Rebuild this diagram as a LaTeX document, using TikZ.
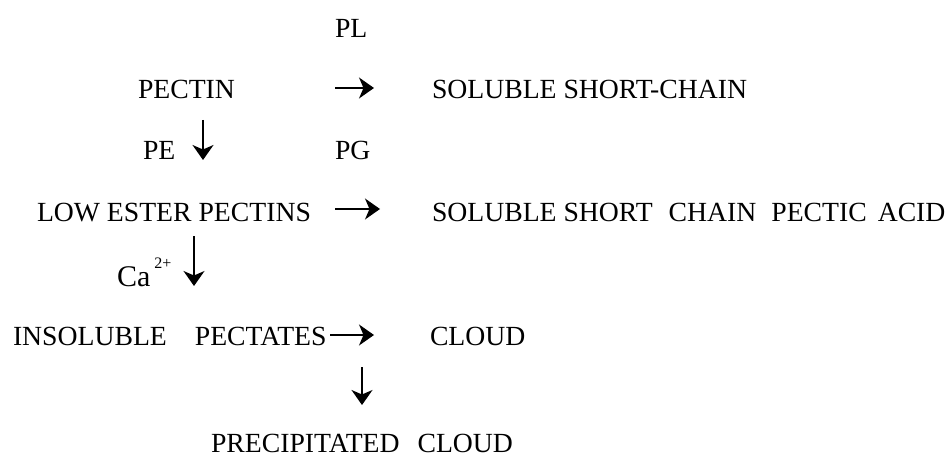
\documentclass[tikz,border=0pt]{standalone}
\usepackage{fontspec}
\setmainfont{Liberation Serif}
\usetikzlibrary{arrows.meta}
\tikzset{
  lbl/.style={anchor=base west, inner sep=0pt, outer sep=0pt, font=\fontsize{27.7}{30}\selectfont},
  arr/.style={line width=1.6pt, -{Stealth[length=15pt,width=21pt,inset=4.5pt]}}
}
\begin{document}
\begin{tikzpicture}[x=1pt,y=-1pt]
\useasboundingbox (0,0) rectangle (952,457);
% labels
\node[lbl] (pl) at (335,38) {PL};
\node[lbl] (pectin) at (138,99) {PECTIN};
\node[lbl] (ssc) at (432,99) {SOLUBLE SHORT-CHAIN};
\node[lbl] (pe) at (143,160) {PE};
\node[lbl] (pg) at (335,160) {PG};
\node[lbl] (lep) at (37,221) {LOW ESTER PECTINS};
\node[lbl] (sscpa) at (432,221) {SOLUBLE SHORT\hspace{16pt}CHAIN\hspace{15pt}PECTIC\hspace{4pt} ACID};
\node[lbl, font=\fontsize{30}{33}\selectfont] (ca) at (117,286) {Ca\hspace{4pt}\raisebox{18pt}{\fontsize{16}{16}\selectfont 2+}};
\node[lbl] (ip) at (13,345) {INSOLUBLE\hspace{28pt}PECTATES};
\node[lbl] (cloud) at (430,345) {CLOUD};
\node[lbl] (pc) at (211,452) {PRECIPITATED\hspace{18pt}CLOUD};
% arrow end points
\coordinate (a1s) at (335,88);  \coordinate (a1e) at (374,88);
\coordinate (a2s) at (203,120); \coordinate (a2e) at (203,160);
\coordinate (a3s) at (335,209); \coordinate (a3e) at (380,209);
\coordinate (a4s) at (194,236); \coordinate (a4e) at (194,286);
\coordinate (a5s) at (330,335); \coordinate (a5e) at (374,335);
\coordinate (a6s) at (362,367); \coordinate (a6e) at (362,405);
% arrows
\draw[arr] (a1s) -- (a1e);
\draw[arr] (a2s) -- (a2e);
\draw[arr] (a3s) -- (a3e);
\draw[arr] (a4s) -- (a4e);
\draw[arr] (a5s) -- (a5e);
\draw[arr] (a6s) -- (a6e);
\end{tikzpicture}
\end{document}
